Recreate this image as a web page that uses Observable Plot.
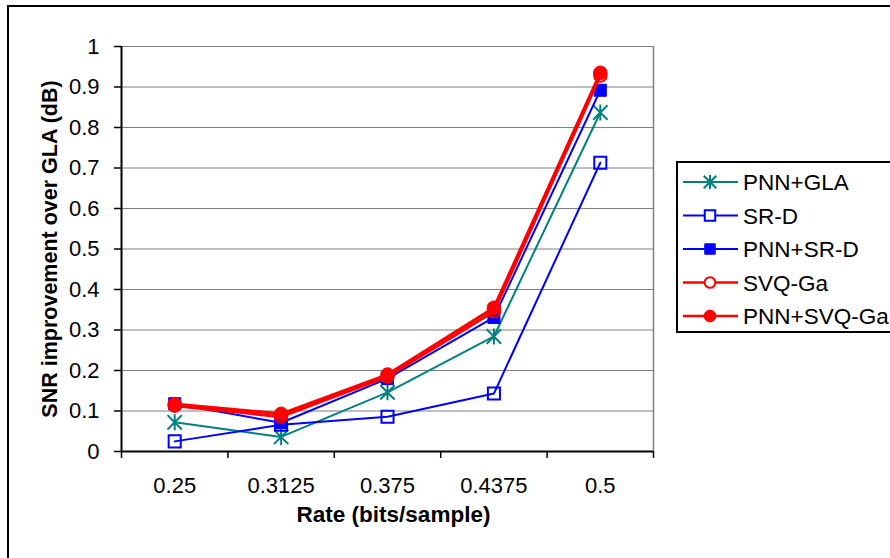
<!DOCTYPE html>
<html>
<head>
<meta charset="utf-8">
<script src="https://cdn.jsdelivr.net/npm/d3@7"></script>
<script src="https://cdn.jsdelivr.net/npm/@observablehq/plot@0.6"></script>
<style>
  html, body { margin: 0; padding: 0; background: #fff; }
  #wrap { position: relative; width: 890px; height: 558px; overflow: hidden; font-family: "Liberation Sans", Arial, sans-serif; }
  #frame { position: absolute; left: 7px; top: 5px; width: 950px; height: 650px; border: 2px solid #000; box-sizing: border-box; pointer-events: none; }
  #chart { position: absolute; left: 0; top: 0; }
  #legend { position: absolute; left: 676px; top: 161px; width: 260px; height: 172px; border: 2px solid #000; box-sizing: border-box; background: #fff; }
</style>
</head>
<body>
<div id="wrap">
  <div id="frame"></div>
  <div id="chart"></div>
  <div id="legend"></div>
</div>
<script>
// ---- data ----
const rates = ["0.25", "0.3125", "0.375", "0.4375", "0.5"];
const seriesNames = ["PNN+GLA", "SR-D", "PNN+SR-D", "SVQ-Ga", "PNN+SVQ-Ga"];
const pnnGla   = [0.072, 0.036, 0.146, 0.284, 0.837];
const srd      = [0.025, 0.066, 0.086, 0.143, 0.713];
const pnnSrd   = [0.118, 0.071, 0.180, 0.331, 0.892];
const svqGa    = [0.113, 0.086, 0.185, 0.346, 0.928];
const pnnSvqGa = [0.117, 0.093, 0.190, 0.355, 0.935];
const yTicks = [0, 0.1, 0.2, 0.3, 0.4, 0.5, 0.6, 0.7, 0.8, 0.9, 1];
const yTitle = "SNR improvement over GLA (dB)";
const xTitle = "Rate (bits/sample)";

// ---- styles ----
const starSymbol = {
  draw(ctx, size) {
    const r = Math.sqrt(size / Math.PI);
    const d = r * 0.9;
    ctx.moveTo(0, -r); ctx.lineTo(0, r);
    ctx.moveTo(-d, -d); ctx.lineTo(d, d);
    ctx.moveTo(-d, d); ctx.lineTo(d, -d);
  }
};
const styles = [
  {color: "#008080", symbol: starSymbol, r: 8, fill: "none", lw: 2, mw: 2},
  {color: "#0000FF", symbol: d3.symbolSquare, r: 6.8, fill: "none", lw: 2, mw: 2},
  {color: "#0000FF", symbol: d3.symbolSquare, r: 6.8, fill: "#0000FF", lw: 2, mw: 1},
  {color: "#FF0000", symbol: d3.symbolCircle, r: 6.2, fill: "none", lw: 3, mw: 2},
  {color: "#FF0000", symbol: d3.symbolCircle, r: 6.8, fill: "#FF0000", lw: 3, mw: 1}
];
const values = [pnnGla, srd, pnnSrd, svqGa, pnnSvqGa];
const rows = seriesNames.map((name, s) => values[s].map((v, i) => ({series: name, i, v})));

const marks = [
  Plot.gridY(yTicks, {stroke: "#808080", strokeOpacity: 1, strokeWidth: 1}),
  Plot.ruleX([rates.length - 0.5], {stroke: "#808080", strokeWidth: 1.5}),
  Plot.axisY(yTicks, {anchor: "left", tickSize: 7, tickPadding: 15, fontSize: 22, label: null, stroke: "#000", strokeWidth: 1.5, tickFormat: d => String(d)}),
  Plot.axisX(d3.range(rates.length + 1).map(i => i - 0.5), {anchor: "bottom", tickSize: 7, tickFormat: () => "", label: null, stroke: "#000", strokeWidth: 1.5}),
  Plot.axisX(d3.range(rates.length), {anchor: "bottom", tickSize: 0, tickPadding: 26, fontSize: 22, label: null, tickFormat: i => rates[i]}),
  Plot.ruleX([-0.5], {stroke: "#000", strokeWidth: 2}),
  Plot.ruleY([0], {stroke: "#000", strokeWidth: 2}),
  Plot.text([yTitle], {frameAnchor: "left", textAnchor: "middle", rotate: -90, dx: -71, fontSize: 21.5, fontWeight: "bold", fill: "#000"}),
  Plot.text([xTitle], {frameAnchor: "bottom", textAnchor: "middle", dy: 70, dx: 6, fontSize: 22.5, fontWeight: "bold", fill: "#000"})
];
rows.forEach((data, s) => {
  const st = styles[s];
  marks.push(Plot.line(data, {x: "i", y: "v", stroke: st.color, strokeWidth: st.lw}));
  marks.push(Plot.dot(data, {x: "i", y: "v", symbol: st.symbol, r: st.r, stroke: st.color, fill: st.fill, strokeWidth: st.mw}));
});

const chart = Plot.plot({
  width: 890,
  height: 558,
  marginLeft: 121,
  marginRight: 237,
  marginTop: 46,
  marginBottom: 107,
  style: {fontFamily: "'Liberation Sans', Arial, sans-serif", background: "transparent", color: "#000"},
  x: {type: "linear", domain: [-0.5, rates.length - 0.5], axis: null},
  y: {domain: [0, 1], axis: null},
  marks
});
document.getElementById("chart").appendChild(chart);

// ---- legend ----
const leg = d3.select("#legend").append("svg").attr("width", 256).attr("height", 168)
  .style("font-family", "'Liberation Sans', Arial, sans-serif");
seriesNames.forEach((name, s) => {
  const st = styles[s];
  const g = leg.append("g").attr("transform", `translate(0, ${19 + s * 33.5})`);
  g.append("line").attr("x1", 5).attr("x2", 60).attr("y1", 0).attr("y2", 0)
    .attr("stroke", st.color).attr("stroke-width", st.lw === 3 ? 2.5 : 2);
  g.append("path").attr("transform", "translate(32,0)")
    .attr("d", d3.symbol().type(st.symbol).size(st.r * st.r * Math.PI * 0.75)())
    .attr("stroke", st.color).attr("fill", st.fill === "none" ? "#fff" : st.fill).attr("stroke-width", st.mw);
  g.append("text").attr("x", 65).attr("y", 0).attr("dy", "0.36em").attr("font-size", 22.5).attr("fill", "#000").text(name);
});
</script>
</body>
</html>
